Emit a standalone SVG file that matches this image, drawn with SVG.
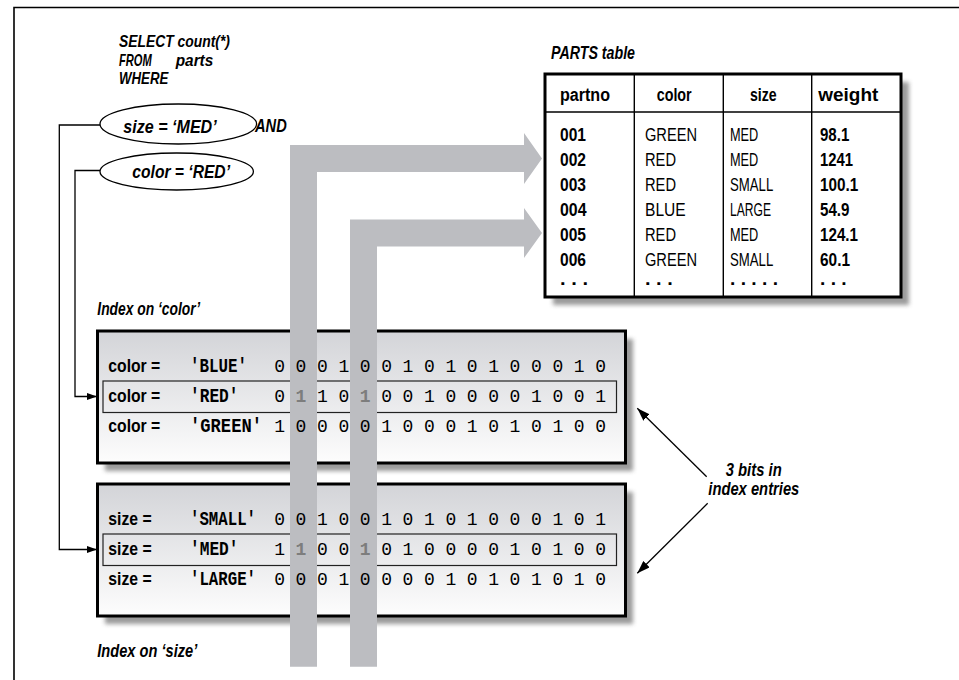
<svg xmlns="http://www.w3.org/2000/svg" width="959" height="680" viewBox="0 0 959 680">
<style>
.frame{fill:none;stroke:#000;stroke-width:1.6}
.it{font-family:"Liberation Sans",Arial,sans-serif;font-weight:bold;font-style:italic;font-size:18px;fill:#000}
.sq{font-size:17px}
.hd{font-family:"Liberation Sans",Arial,sans-serif;font-weight:bold;font-size:18px;fill:#000}
.rg{font-family:"Liberation Sans",Arial,sans-serif;font-size:18px;fill:#000}
.mono{font-family:"Liberation Mono","Courier New",monospace;font-weight:bold;font-size:21px;fill:#000}
.bit{font-family:"Liberation Mono","Courier New",monospace;font-size:18px;fill:#000;text-anchor:middle}
.hl{fill:#7d7d7d;font-weight:bold}
.line{fill:none;stroke:#000;stroke-width:1.3}
.box{fill:url(#boxg);stroke:#000;stroke-width:3}
.row{fill:none;stroke:#222;stroke-width:1.2}
.shadow{fill:#7a7a7a;opacity:0.75;filter:url(#blur)}
.bar{fill:#bcbdc1}
.tline{stroke:#000;stroke-width:1.4}
</style>
<defs>
<linearGradient id="boxg" x1="0" y1="0" x2="0" y2="1">
<stop offset="0" stop-color="#d3d4d8"/>
<stop offset="1" stop-color="#fdfdfd"/>
</linearGradient>
<filter id="blur" x="-5%" y="-5%" width="110%" height="120%"><feGaussianBlur stdDeviation="2.2"/></filter>
<marker id="ah" viewBox="0 0 10 7" refX="10" refY="3.5" markerWidth="10" markerHeight="7" markerUnits="userSpaceOnUse" orient="auto"><path d="M0,0 L10,3.5 L0,7 Z" fill="#000"/></marker>
<marker id="ah2" viewBox="0 0 13 9" refX="13" refY="4.5" markerWidth="13" markerHeight="9" markerUnits="userSpaceOnUse" orient="auto"><path d="M0,0 L13,4.5 L0,9 Z" fill="#000"/></marker>
</defs>

<path class="frame" d="M14,680 V7.5 H959"/>

<g id="sql">
<text class="it sq" x="119" y="47" textLength="111" lengthAdjust="spacingAndGlyphs">SELECT count(*)</text>
<text class="it sq" x="119" y="65.5" textLength="32.7" lengthAdjust="spacingAndGlyphs">FROM</text>
<text class="it sq" x="175.7" y="65.5" textLength="37.6" lengthAdjust="spacingAndGlyphs">parts</text>
<text class="it sq" x="119" y="83.5" textLength="49.3" lengthAdjust="spacingAndGlyphs">WHERE</text>
<text class="it" x="255" y="132" textLength="31.7" lengthAdjust="spacingAndGlyphs">AND</text>
</g>

<g id="cond-size">
<ellipse cx="178.3" cy="124" rx="78.3" ry="20" fill="#fff" stroke="#000" stroke-width="1.3"/>
<text class="it" x="123.3" y="132.5" textLength="93.4" lengthAdjust="spacingAndGlyphs">size = ‘MED’</text>
</g>

<g id="cond-color">
<ellipse cx="176.7" cy="171.5" rx="76.7" ry="18.5" fill="#fff" stroke="#000" stroke-width="1.3"/>
<text class="it" x="132.3" y="177.5" textLength="97.7" lengthAdjust="spacingAndGlyphs">color = ‘RED’</text>
</g>

<g id="parts-table">
<text class="it" x="551" y="59" textLength="84" lengthAdjust="spacingAndGlyphs">PARTS table</text>
<rect class="shadow" x="553" y="82" width="356" height="223"/>
<rect x="545" y="74" width="356" height="223" fill="#fff" stroke="#000" stroke-width="3"/>
<line class="tline" x1="545" y1="112" x2="901" y2="112"/>
<line class="tline" x1="634.3" y1="74" x2="634.3" y2="297"/>
<line class="tline" x1="723.3" y1="74" x2="723.3" y2="297"/>
<line class="tline" x1="811.7" y1="74" x2="811.7" y2="297"/>
<text class="hd" x="560" y="101" textLength="50" lengthAdjust="spacingAndGlyphs">partno</text>
<text class="hd" x="656.7" y="101" textLength="35" lengthAdjust="spacingAndGlyphs">color</text>
<text class="hd" x="750" y="101" textLength="26.7" lengthAdjust="spacingAndGlyphs">size</text>
<text class="hd" x="818.3" y="101" textLength="60" lengthAdjust="spacingAndGlyphs">weight</text>

<text class="hd" x="560" y="141" textLength="26" lengthAdjust="spacingAndGlyphs">001</text>
<text class="hd" x="560" y="166" textLength="26" lengthAdjust="spacingAndGlyphs">002</text>
<text class="hd" x="560" y="191" textLength="26" lengthAdjust="spacingAndGlyphs">003</text>
<text class="hd" x="560" y="216" textLength="26.5" lengthAdjust="spacingAndGlyphs">004</text>
<text class="hd" x="560" y="241" textLength="26" lengthAdjust="spacingAndGlyphs">005</text>
<text class="hd" x="560" y="266" textLength="26" lengthAdjust="spacingAndGlyphs">006</text>
<text class="hd" x="560" y="285" textLength="28" lengthAdjust="spacingAndGlyphs">. . .</text>

<text class="rg" x="645" y="141" textLength="52" lengthAdjust="spacingAndGlyphs">GREEN</text>
<text class="rg" x="645" y="166" textLength="31" lengthAdjust="spacingAndGlyphs">RED</text>
<text class="rg" x="645" y="191" textLength="31" lengthAdjust="spacingAndGlyphs">RED</text>
<text class="rg" x="645" y="216" textLength="40.7" lengthAdjust="spacingAndGlyphs">BLUE</text>
<text class="rg" x="645" y="241" textLength="31" lengthAdjust="spacingAndGlyphs">RED</text>
<text class="rg" x="645" y="266" textLength="52" lengthAdjust="spacingAndGlyphs">GREEN</text>
<text class="hd" x="645" y="285" textLength="27.7" lengthAdjust="spacingAndGlyphs">. . .</text>

<text class="rg" x="730" y="141" textLength="28.3" lengthAdjust="spacingAndGlyphs">MED</text>
<text class="rg" x="730" y="166" textLength="28.3" lengthAdjust="spacingAndGlyphs">MED</text>
<text class="rg" x="730" y="191" textLength="43.3" lengthAdjust="spacingAndGlyphs">SMALL</text>
<text class="rg" x="730" y="216" textLength="41" lengthAdjust="spacingAndGlyphs">LARGE</text>
<text class="rg" x="730" y="241" textLength="28.3" lengthAdjust="spacingAndGlyphs">MED</text>
<text class="rg" x="730" y="266" textLength="43.3" lengthAdjust="spacingAndGlyphs">SMALL</text>
<text class="hd" x="730" y="285" textLength="48" lengthAdjust="spacingAndGlyphs">. . . . .</text>

<text class="hd" x="820" y="141" textLength="29.3" lengthAdjust="spacingAndGlyphs">98.1</text>
<text class="hd" x="820" y="166" textLength="33" lengthAdjust="spacingAndGlyphs">1241</text>
<text class="hd" x="820" y="191" textLength="38.3" lengthAdjust="spacingAndGlyphs">100.1</text>
<text class="hd" x="820" y="216" textLength="29.5" lengthAdjust="spacingAndGlyphs">54.9</text>
<text class="hd" x="820" y="241" textLength="38" lengthAdjust="spacingAndGlyphs">124.1</text>
<text class="hd" x="820" y="266" textLength="30" lengthAdjust="spacingAndGlyphs">60.1</text>
<text class="hd" x="820" y="285" textLength="26.7" lengthAdjust="spacingAndGlyphs">. . .</text>
</g>

<g id="index-color">
<text class="it" x="97.3" y="315" textLength="102.7" lengthAdjust="spacingAndGlyphs">Index on ‘color’</text>
<rect class="shadow" x="105" y="339" width="528" height="132"/>
<rect class="box" x="97.5" y="331" width="528" height="132"/>
<rect class="row" x="103" y="381" width="513.5" height="31.5"/>
</g>

<g id="index-size">
<text class="it" x="97.3" y="657" textLength="100" lengthAdjust="spacingAndGlyphs">Index on ‘size’</text>
<rect class="shadow" x="105" y="492" width="528" height="132"/>
<rect class="box" x="97.5" y="484" width="528" height="132"/>
<rect class="row" x="103" y="534" width="513.5" height="31.5"/>
</g>

<g id="connectors">
<path class="bar" d="M290,666.7 V145 H524 V133 L542,158.5 L524,184 V172 H317 V666.7 Z"/>
<path class="bar" d="M350,666.7 V219.5 H524 V208 L542,233 L524,258 V246.5 H377 V666.7 Z"/>
<polyline class="line" points="100,125 59.3,125 59.3,549.5 97,549.5" marker-end="url(#ah)"/>
<polyline class="line" points="100,170.5 75,170.5 75,396.5 97,396.5" marker-end="url(#ah)"/>
<line class="line" x1="706.7" y1="476.7" x2="637.3" y2="408.3" marker-end="url(#ah2)"/>
<line class="line" x1="707.7" y1="503.3" x2="637.3" y2="573.3" marker-end="url(#ah2)"/>
</g>

<g id="index-color-rows">
<text class="hd" x="108.3" y="372" textLength="52" lengthAdjust="spacingAndGlyphs">color =</text>
<text class="hd" x="108.3" y="402" textLength="52" lengthAdjust="spacingAndGlyphs">color =</text>
<text class="hd" x="108.3" y="432" textLength="52" lengthAdjust="spacingAndGlyphs">color =</text>
<text class="mono" x="190" y="372" textLength="57" lengthAdjust="spacingAndGlyphs">'BLUE'</text>
<text class="mono" x="190" y="402" textLength="48.5" lengthAdjust="spacingAndGlyphs">'RED'</text>
<text class="mono" x="190" y="432" textLength="72" lengthAdjust="spacingAndGlyphs">'GREEN'</text>
<text class="bit" y="372" x="279.6 301 322.4 343.8 365.2 386.6 408 429.4 450.8 472.2 493.6 515 536.4 557.8 579.2 600.6">0001001010100010</text>
<text class="bit" y="402" x="279.6 301 322.4 343.8 365.2 386.6 408 429.4 450.8 472.2 493.6 515 536.4 557.8 579.2 600.6">0<tspan class="hl">1</tspan>10<tspan class="hl">1</tspan>00100001001</text>
<text class="bit" y="432" x="279.6 301 322.4 343.8 365.2 386.6 408 429.4 450.8 472.2 493.6 515 536.4 557.8 579.2 600.6">1000010001010100</text>
</g>

<g id="index-size-rows">
<text class="hd" x="108.3" y="525" textLength="43.3" lengthAdjust="spacingAndGlyphs">size =</text>
<text class="hd" x="108.3" y="555" textLength="43.3" lengthAdjust="spacingAndGlyphs">size =</text>
<text class="hd" x="108.3" y="585" textLength="43.3" lengthAdjust="spacingAndGlyphs">size =</text>
<text class="mono" x="190" y="525" textLength="66" lengthAdjust="spacingAndGlyphs">'SMALL'</text>
<text class="mono" x="190" y="555" textLength="48.5" lengthAdjust="spacingAndGlyphs">'MED'</text>
<text class="mono" x="190" y="585" textLength="66" lengthAdjust="spacingAndGlyphs">'LARGE'</text>
<text class="bit" y="525" x="279.6 301 322.4 343.8 365.2 386.6 408 429.4 450.8 472.2 493.6 515 536.4 557.8 579.2 600.6">0010010101000101</text>
<text class="bit" y="555" x="279.6 301 322.4 343.8 365.2 386.6 408 429.4 450.8 472.2 493.6 515 536.4 557.8 579.2 600.6">1<tspan class="hl">1</tspan>00<tspan class="hl">1</tspan>01000010100</text>
<text class="bit" y="585" x="279.6 301 322.4 343.8 365.2 386.6 408 429.4 450.8 472.2 493.6 515 536.4 557.8 579.2 600.6">0001000010101010</text>
</g>

<g id="bits-label">
<text class="it" x="725.7" y="476" textLength="56" lengthAdjust="spacingAndGlyphs">3 bits in</text>
<text class="it" x="708.3" y="495" textLength="91" lengthAdjust="spacingAndGlyphs">index entries</text>
</g>
</svg>
